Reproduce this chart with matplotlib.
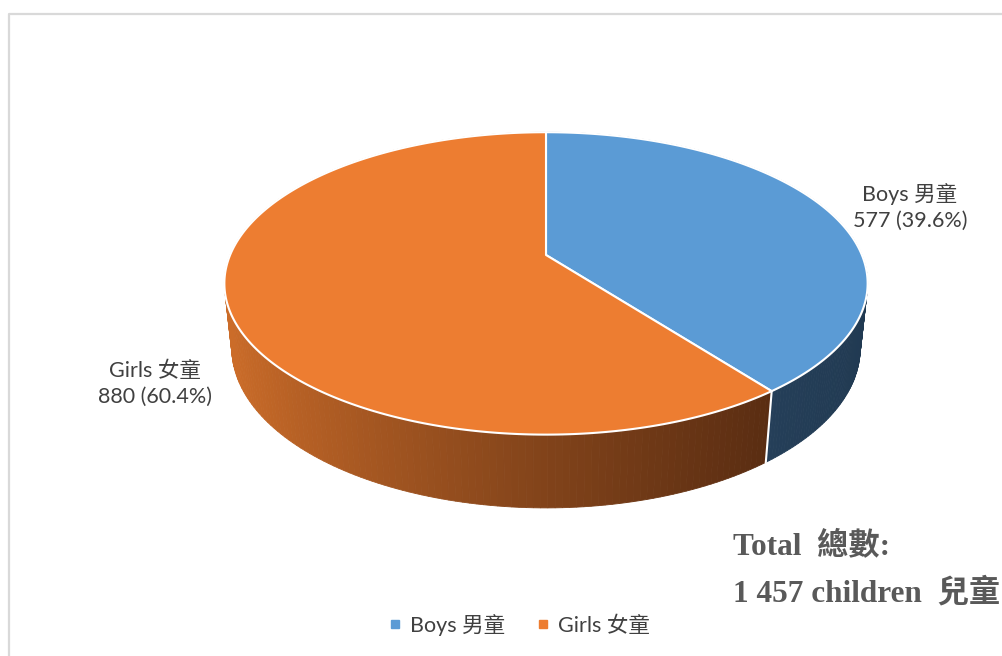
import numpy as np
import matplotlib
matplotlib.use("Agg")
import matplotlib.pyplot as plt
from matplotlib.patches import Polygon
from matplotlib.lines import Line2D
from matplotlib.colors import to_rgb

# ---- data
LABELS = ["Boys 男童", "Girls 女童"]
COUNTS = [577, 880]
TOP_COLORS = ["#5B9BD5", "#ED7D31"]
TOTAL_LINES = ["Total  總數:", "1 457 children  兒童"]

SANS = ["Lato", "Noto Sans CJK TC"]
SERIF = ["Liberation Serif", "Noto Sans CJK TC"]
TXT = "#404040"

# ---- 3D pie camera (pixel space)
CX, CY = 546, 255          # apex of the pie on screen
PHI = np.radians(27.5)     # elevation
DIST, FOC, H = 4.72, 1491.0, 0.233


def proj(theta, z=0.0):
    """theta clockwise from 12 o'clock, z = 0 top, -H bottom."""
    x = np.sin(theta)
    y = -np.cos(theta)     # +y toward viewer
    v = -y * np.sin(PHI) + z * np.cos(PHI)
    d = DIST - (y * np.cos(PHI) + z * np.sin(PHI))
    return CX + FOC * x / d, CY - FOC * v / d


def wall_color(i, X):
    if i == 0:
        c0, c1 = np.array(to_rgb("#253F59")), np.array(to_rgb("#213A52"))
        t = np.clip((X - 770) / 100, 0, 1)
    else:
        c0, c1 = np.array(to_rgb("#CB6C29")), np.array(to_rgb("#5A2D12"))
        t = np.clip((X - 232) / (770 - 232), 0, 1) ** 0.8
    return tuple(c0 + (c1 - c0) * t)


fig = plt.figure(figsize=(10.03, 6.56), dpi=100)
ax = fig.add_axes([0, 0, 1, 1])
ax.set_xlim(0, 1003)
ax.set_ylim(656, 0)
ax.axis("off")

# chart frame
ax.plot([9.5, 9.5, 1003], [656, 14, 14], color="#D9D9D9", lw=1.6, zorder=0)

total = sum(COUNTS)
bounds = np.concatenate([[0], np.cumsum(COUNTS) / total * 2 * np.pi])

# side walls as thin strips, back to front
strips = []
for i in range(len(COUNTS)):
    ts = np.linspace(bounds[i], bounds[i + 1], 200)
    for a, b in zip(ts[:-1], ts[1:]):
        xt1, yt1 = proj(a)
        xt2, yt2 = proj(b)
        xb2, yb2 = proj(b, -H)
        xb1, yb1 = proj(a, -H)
        depth = -np.cos((a + b) / 2)
        col = wall_color(i, (xt1 + xt2) / 2)
        strips.append((depth, [[xt1, yt1], [xt2, yt2], [xb2, yb2], [xb1, yb1]], col))
strips.sort(key=lambda s: s[0])
for depth, pts, col in strips:
    ax.add_patch(Polygon(pts, closed=True, fc=col, ec=col, lw=0.6, zorder=1))

# white seam on the wall where the slices meet (front side only)
for b in bounds[1:-1]:
    if -np.cos(b) > 0:
        x1, y1 = proj(b)
        x2, y2 = proj(b, -H)
        ax.plot([x1, x2], [y1, y2], color="white", lw=1.5, zorder=2)

# top faces
for i in range(len(COUNTS)):
    ts = np.linspace(bounds[i], bounds[i + 1], 300)
    xs, ys = proj(ts)
    pts = np.column_stack([np.r_[CX, xs], np.r_[CY, ys]])
    ax.add_patch(Polygon(pts, closed=True, fc=TOP_COLORS[i], ec="white",
                         lw=1.5, joinstyle="round", zorder=3))

# data labels
ax.text(910, 207, f"{LABELS[0]}\n{COUNTS[0]} ({COUNTS[0] / total * 100:.1f}%)",
        ha="center", va="center", fontsize=15.5, color=TXT, family=SANS,
        linespacing=1.35, zorder=5)
ax.text(155, 384, f"{LABELS[1]}\n{COUNTS[1]} ({COUNTS[1] / total * 100:.1f}%)",
        ha="center", va="center", fontsize=15.5, color=TXT, family=SANS,
        linespacing=1.35, zorder=5)

# total annotation
ax.text(733, 546, TOTAL_LINES[0], ha="left", va="center", fontsize=22.5,
        fontweight="bold", color="#595959", family=SERIF, zorder=5)
ax.text(733, 593, TOTAL_LINES[1], ha="left", va="center", fontsize=22.5,
        fontweight="bold", color="#595959", family=SERIF, zorder=5)

# legend
handles = [Line2D([], [], ls="", marker="s", ms=6, mfc=c, mec=c) for c in TOP_COLORS]
leg = fig.legend(handles, LABELS, loc="center", bbox_to_anchor=(0.518, 1 - 625 / 656),
                 ncol=2, frameon=False, handlelength=0.5, handletextpad=0.45,
                 columnspacing=1.5, prop={"family": SANS, "size": 15.5})
for t in leg.get_texts():
    t.set_color(TXT)

fig.savefig("out.png", dpi=100, facecolor="white")
